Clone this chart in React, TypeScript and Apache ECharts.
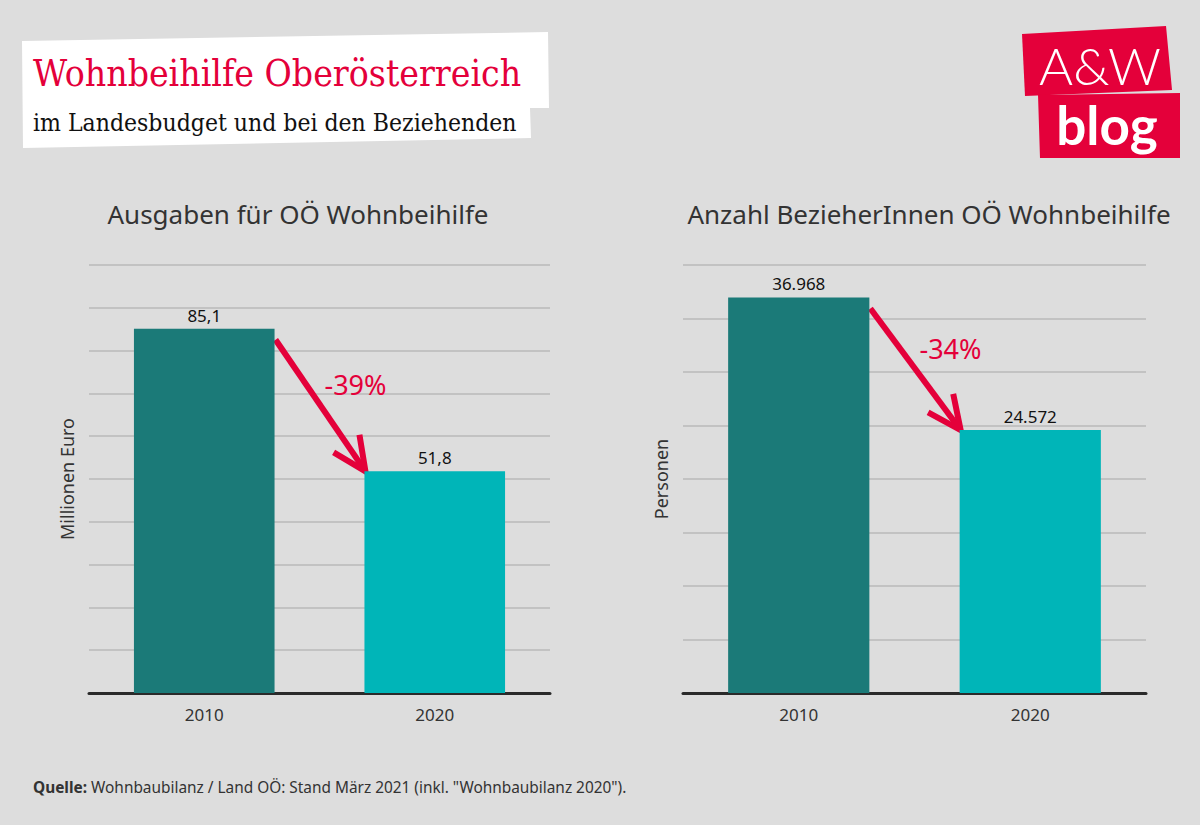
import React, { useEffect, useRef } from 'react';
import * as echarts from 'echarts';

const years: string[] = ['2010', '2020'];
const spending: number[] = [85.1, 51.8];
const recipients: number[] = [36968, 24572];
const spendingChange = '-39%';
const recipientsChange = '-34%';
const spendingTitle = 'Ausgaben für OÖ Wohnbeihilfe';
const recipientsTitle = 'Anzahl BezieherInnen OÖ Wohnbeihilfe';
const spendingAxisName = 'Millionen Euro';
const recipientsAxisName = 'Personen';
const mainTitle = 'Wohnbeihilfe Oberösterreich';
const subTitle = 'im Landesbudget und bei den Beziehenden';
const sourceLabel = 'Quelle:';
const sourceText = ' Wohnbaubilanz / Land OÖ: Stand März 2021 (inkl. "Wohnbaubilanz 2020").';

const barColors = ['#1b7a78', '#00b5b8'];
const RED = '#e4003a';
const SANS = '"Noto Sans", "Open Sans", sans-serif';
const SERIF = '"DejaVu Serif Condensed", "DejaVu Serif", serif';

const fmtDecimal = (v: number) => v.toFixed(1).replace('.', ',');
const fmtThousands = (v: number) => String(v).replace(/\B(?=(\d{3})+(?!\d))/g, '.');

export default function App() {
  const ref = useRef<HTMLDivElement>(null);
  useEffect(() => {
    document.body.style.margin = '0';
    const chart = echarts.init(ref.current!, undefined, { renderer: 'svg' });
    const makeData = (vals: number[]) =>
      vals.map((v, i) => ({ value: v, itemStyle: { color: barColors[i] } }));
    const xAxisBase = {
      type: 'category' as const,
      data: years,
      axisLine: { lineStyle: { color: '#2a2a2a', width: 3 } },
      axisTick: { show: false },
      axisLabel: { fontSize: 17, color: '#333', margin: 13, fontFamily: SANS },
    };
    const yAxisBase = {
      type: 'value' as const,
      min: 0,
      axisLabel: { show: false },
      axisLine: { show: false },
      axisTick: { show: false },
      splitLine: { lineStyle: { color: '#b9b9b9', width: 1.5 } },
      nameLocation: 'middle' as const,
      nameGap: 13,
      nameTextStyle: { fontSize: 18, color: '#333', fontFamily: SANS },
    };
    const labelBase = {
      show: true,
      position: 'top' as const,
      distance: 5,
      fontSize: 17,
      color: '#111',
      fontFamily: SANS,
    };
    const titleStyle = { fontSize: 26, fontWeight: 'normal' as const, color: '#333', fontFamily: SANS };
    chart.setOption({
      animation: false,
      backgroundColor: '#dddddd',
      title: [
        { text: spendingTitle, left: 293, top: 196, textAlign: 'center', textStyle: titleStyle },
        { text: recipientsTitle, left: 924, top: 196, textAlign: 'center', textStyle: titleStyle },
      ],
      grid: [
        { left: 89, top: 265, width: 461, height: 428 },
        { left: 683, top: 265, width: 463, height: 428 },
      ],
      xAxis: [
        { ...xAxisBase, gridIndex: 0 },
        { ...xAxisBase, gridIndex: 1 },
      ],
      yAxis: [
        { ...yAxisBase, gridIndex: 0, max: 100, interval: 10, name: spendingAxisName },
        { ...yAxisBase, gridIndex: 1, max: 40000, interval: 5000, name: recipientsAxisName },
      ],
      series: [
        {
          type: 'bar',
          xAxisIndex: 0,
          yAxisIndex: 0,
          barWidth: '61%',
          data: makeData(spending),
          label: { ...labelBase, formatter: (p: any) => fmtDecimal(p.value) },
        },
        {
          type: 'bar',
          xAxisIndex: 1,
          yAxisIndex: 1,
          barWidth: '61%',
          data: makeData(recipients),
          label: { ...labelBase, formatter: (p: any) => fmtThousands(p.value) },
        },
      ],
    });

    const arrowFor = (gridIndex: number, vals: number[], text: string) => {
      const p0 = chart.convertToPixel({ gridIndex } as any, [0, vals[0]]) as number[];
      const p1 = chart.convertToPixel({ gridIndex } as any, [1, vals[1]]) as number[];
      const catW = p1[0] - p0[0];
      const half = (catW * 0.61) / 2;
      const sx = p0[0] + half + 1;
      const sy = p0[1] + 11;
      const tx = p1[0] - half + 1;
      const ty = p1[1];
      const ang = Math.atan2(ty - sy, tx - sx) + Math.PI;
      const len = 37;
      const spread = (25 * Math.PI) / 180;
      const w1 = [tx + len * Math.cos(ang + spread), ty + len * Math.sin(ang + spread)];
      const w2 = [tx + len * Math.cos(ang - spread), ty + len * Math.sin(ang - spread)];
      const style = { stroke: RED, lineWidth: 6, fill: null, lineCap: 'butt' as const };
      return [
        { type: 'line', shape: { x1: sx, y1: sy, x2: tx - 2 * Math.cos(ang + Math.PI), y2: ty - 2 * Math.sin(ang + Math.PI) }, style },
        { type: 'polyline', shape: { points: [w1, [tx, ty], w2] }, style: { ...style, lineJoin: 'miter' } },
        {
          type: 'text',
          x: (sx + tx) / 2 + 35,
          y: (sy + ty) / 2 - 21,
          style: {
            text,
            fill: RED,
            fontSize: 27,
            fontFamily: SANS,
            align: 'center',
            verticalAlign: 'middle',
          },
        },
      ];
    };

    chart.setOption({
      graphic: [
        {
          type: 'polygon',
          shape: {
            points: [
              [22, 41],
              [548, 32],
              [549, 108],
              [530, 108],
              [531, 138],
              [23, 148],
            ],
          },
          style: { fill: '#ffffff' },
        },
        {
          type: 'text',
          x: 33,
          y: 73,
          style: {
            text: mainTitle,
            fill: RED,
            fontSize: 37,
            fontFamily: SERIF,
            verticalAlign: 'middle',
          },
        },
        {
          type: 'text',
          x: 33,
          y: 122,
          style: {
            text: subTitle,
            fill: '#111',
            fontSize: 24.5,
            fontFamily: SERIF,
            verticalAlign: 'middle',
          },
        },
        {
          type: 'polygon',
          shape: { points: [[1022, 34], [1166, 26], [1172, 90], [1025, 96]] },
          style: { fill: RED },
        },
        {
          type: 'polygon',
          shape: { points: [[1038, 95], [1180, 93], [1180, 158], [1040, 158]] },
          style: { fill: RED },
        },
        {
          type: 'text',
          x: 1100,
          y: 65,
          style: {
            text: 'A&W',
            fill: '#ffffff',
            fontSize: 52,
            fontWeight: 300,
            fontFamily: 'Lato, sans-serif',
            align: 'center',
            verticalAlign: 'middle',
          },
        },
        {
          type: 'text',
          x: 1107,
          y: 124,
          style: {
            text: 'blog',
            fill: '#ffffff',
            fontSize: 53,
            fontWeight: 'bold',
            fontFamily: 'Lato, sans-serif',
            align: 'center',
            verticalAlign: 'middle',
          },
        },
        {
          type: 'text',
          x: 33,
          y: 787,
          style: {
            text: '{b|' + sourceLabel + '}' + sourceText,
            fill: '#333',
            fontSize: 15.4,
            fontFamily: SANS,
            verticalAlign: 'middle',
            rich: { b: { fontWeight: 'bold', fontSize: 15.4, fill: '#333', fontFamily: SANS } },
          },
        },
        ...arrowFor(0, spending, spendingChange),
        ...arrowFor(1, recipients, recipientsChange),
      ],
    });
    return () => chart.dispose();
  }, []);
  return (
    <div
      ref={ref}
      style={{ position: 'fixed', left: 0, top: 0, width: 1200, height: 825 }}
    />
  );
}
